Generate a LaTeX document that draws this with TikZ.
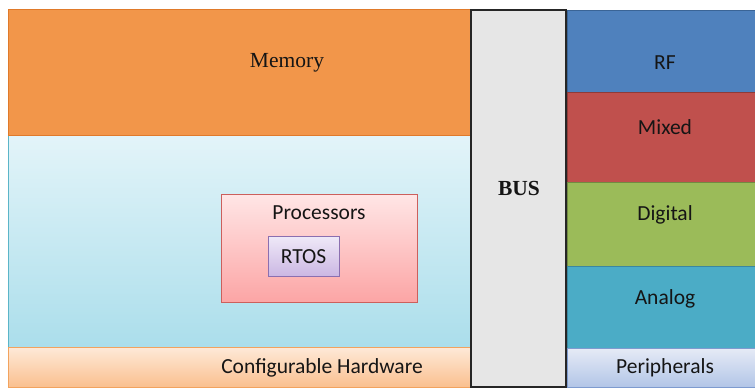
\documentclass[tikz,border=0pt]{standalone}
\usepackage{fontspec}
\setmainfont{Carlito}
\newfontfamily\timesf{Liberation Serif}
\definecolor{memfill}{HTML}{F2964A}
\definecolor{memdraw}{HTML}{E07A2A}
\definecolor{lbtop}{HTML}{E3F4F9}
\definecolor{lbbot}{HTML}{ABDEEB}
\definecolor{lbdraw}{HTML}{5BB5C8}
\definecolor{cftop}{HTML}{FEE9D8}
\definecolor{cfbot}{HTML}{FAC08F}
\definecolor{cfdraw}{HTML}{F2A35E}
\definecolor{prtop}{HTML}{FFE6E6}
\definecolor{prbot}{HTML}{FCA5A5}
\definecolor{prdraw}{HTML}{CC5F5C}
\definecolor{rttop}{HTML}{EFE9F8}
\definecolor{rtbot}{HTML}{CBB7E3}
\definecolor{rtdraw}{HTML}{8B6FB0}
\definecolor{busfill}{HTML}{E6E6E6}
\definecolor{rffill}{HTML}{4F81BD}
\definecolor{rfdraw}{HTML}{3A6496}
\definecolor{mxfill}{HTML}{C0504D}
\definecolor{mxdraw}{HTML}{8E3B39}
\definecolor{dgfill}{HTML}{9BBB59}
\definecolor{dgdraw}{HTML}{728A42}
\definecolor{anfill}{HTML}{4BACC6}
\definecolor{andraw}{HTML}{3A87A0}
\definecolor{pptop}{HTML}{E6EBF6}
\definecolor{ppbot}{HTML}{B2C5E7}
\definecolor{ppdraw}{HTML}{7E9BCF}
\definecolor{txt}{HTML}{151515}
\tikzset{
  lbl/.style={text=txt, inner sep=0pt, font=\fontsize{21.5}{25}\selectfont},
  serlbl/.style={text=txt, inner sep=0pt, font=\timesf\fontsize{21.5}{25}\selectfont},
  boxline/.style={line width=1pt},
}
\begin{document}
\begin{tikzpicture}[x=1pt,y=-1pt]
\useasboundingbox (0,0) rectangle (755,388);
% left column
\shade[top color=lbtop, bottom color=lbbot] (8,135) rectangle (471,347);
\draw[boxline, draw=lbdraw] (8,135) rectangle (471,347);
\fill[memfill] (8,9) rectangle (471,135);
\draw[boxline, draw=memdraw] (8,9) rectangle (471,135);
\shade[top color=cftop, bottom color=cfbot] (8,347) rectangle (471,387);
\draw[boxline, draw=cfdraw] (8,347) rectangle (471,387);
% processors
\shade[top color=prtop, bottom color=prbot] (221,194) rectangle (417,302);
\draw[boxline, draw=prdraw] (221,194) rectangle (417,302);
\shade[top color=rttop, bottom color=rtbot] (268,236) rectangle (339,276);
\draw[boxline, draw=rtdraw] (268,236) rectangle (339,276);
% bus
\fill[busfill] (471,10) rectangle (566,387);
\draw[line width=1.3pt, draw=black!85] (471,10) rectangle (566,387);
% right column
\fill[rffill] (567,10) rectangle (755,92);
\draw[boxline, draw=rfdraw] (567,10) rectangle (755,92);
\fill[mxfill] (567,92) rectangle (755,182);
\draw[boxline, draw=mxdraw] (567,92) rectangle (755,182);
\fill[dgfill] (567,182) rectangle (755,266);
\draw[boxline, draw=dgdraw] (567,182) rectangle (755,266);
\fill[anfill] (567,266) rectangle (755,348);
\draw[boxline, draw=andraw] (567,266) rectangle (755,348);
\shade[top color=pptop, bottom color=ppbot] (567,348) rectangle (755,387);
\draw[boxline, draw=ppdraw] (567,348) rectangle (755,387);
% labels
\node[serlbl] (memory) at (287,62.5) {Memory};
\node[lbl] (processors) at (319,212.5) {Processors};
\node[lbl] (rtos) at (303.5,256.5) {RTOS};
\node[lbl] (config) at (322,367.5) {Configurable Hardware};
\node[serlbl, font=\timesf\bfseries\fontsize{21.5}{25}\selectfont] (bus) at (519,188.5) {BUS};
\node[lbl] (rf) at (665,62.5) {RF};
\node[lbl] (mixed) at (665,127.5) {Mixed};
\node[lbl] (digital) at (665,214.5) {Digital};
\node[lbl] (analog) at (665,298.5) {Analog};
\node[lbl] (periph) at (665,367.5) {Peripherals};
\end{tikzpicture}
\end{document}
